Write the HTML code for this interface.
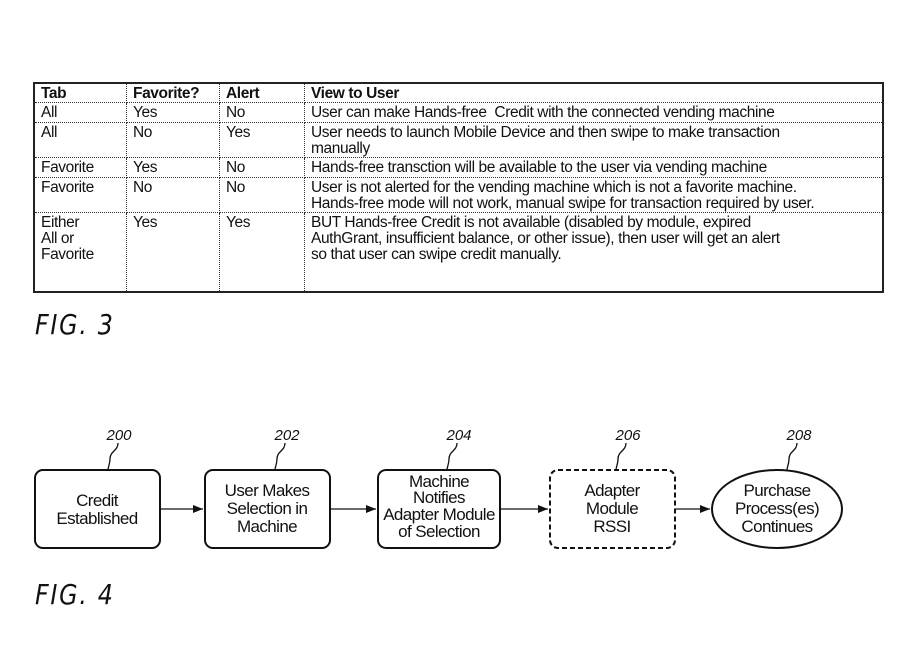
<!DOCTYPE html>
<html><head><meta charset="utf-8"><style>
body{margin:0;background:#fff;width:920px;height:647px;overflow:hidden;position:relative;font-family:"Liberation Sans",Arial,sans-serif;color:#111}
table{position:absolute;left:33px;top:82px;width:851px;border-collapse:collapse;font-size:15.5px;line-height:16px;table-layout:fixed}
td,th{border:1px dotted #333;padding:2px 6px 0 6px;vertical-align:top;text-align:left;letter-spacing:-0.4px;white-space:nowrap;overflow:hidden}
table{border:2px solid #222}
th{font-weight:bold;height:16px}
.fig{position:absolute;font-style:italic;font-size:28px;letter-spacing:2px;font-family:"DejaVu Sans","Liberation Sans",sans-serif;font-weight:300;transform:scaleX(0.85);transform-origin:left}
</style></head><body>
<table>
<tr><th style="width:79px">Tab</th><th style="width:80px">Favorite?</th><th style="width:72px">Alert</th><th>View to User</th></tr>
<tr style="height:20px"><td>All</td><td>Yes</td><td>No</td><td>User can make Hands-free&nbsp; Credit with the connected vending machine</td></tr>
<tr style="height:34px"><td>All</td><td>No</td><td>Yes</td><td>User needs to launch Mobile Device and then swipe to make transaction<br>manually</td></tr>
<tr style="height:20px"><td>Favorite</td><td>Yes</td><td>No</td><td>Hands-free transction will be available to the user via vending machine</td></tr>
<tr style="height:35px"><td>Favorite</td><td>No</td><td>No</td><td>User is not alerted for the vending machine which is not a favorite machine.<br>Hands-free mode will not work, manual swipe for transaction required by user.</td></tr>
<tr style="height:79px"><td>Either<br>All or<br>Favorite</td><td>Yes</td><td>Yes</td><td>BUT Hands-free Credit is not available (disabled by module, expired<br>AuthGrant, insufficient balance, or other issue), then user will get an alert<br>so that user can swipe credit manually.</td></tr>
</table>
<div class="fig" style="left:35px;top:308px">FIG. 3</div>
<div class="fig" style="left:35px;top:578px">FIG. 4</div>
<svg width="920" height="647" style="position:absolute;left:0;top:0" font-family="Liberation Sans, Arial, sans-serif">
<defs><marker id="a" markerWidth="10" markerHeight="8" refX="10" refY="4" orient="auto" markerUnits="userSpaceOnUse"><path d="M0,0 L10,4 L0,8z" fill="#111"/></marker></defs>
<g fill="none" stroke="#111" stroke-width="2">
<rect x="35" y="470" width="125" height="78" rx="8"/>
<rect x="205" y="470" width="125" height="78" rx="8"/>
<rect x="378" y="470" width="122" height="78" rx="8"/>
<rect x="550" y="470" width="125" height="78" rx="8" stroke-dasharray="5,3"/>
<ellipse cx="777" cy="509" rx="65" ry="39"/>
</g>
<g stroke="#111" stroke-width="1.3" fill="none">
<line x1="160" y1="509" x2="203" y2="509" marker-end="url(#a)"/>
<line x1="330" y1="509" x2="376" y2="509" marker-end="url(#a)"/>
<line x1="500" y1="509" x2="548" y2="509" marker-end="url(#a)"/>
<line x1="675" y1="509" x2="710" y2="509" marker-end="url(#a)"/>
<path d="M118,443 c0,8 -8,8 -8,16 c0,5 -2,8 -2,11"/>
<path d="M285,443 c0,8 -8,8 -8,16 c0,5 -2,8 -2,11"/>
<path d="M457,443 c0,8 -8,8 -8,16 c0,5 -2,8 -2,11"/>
<path d="M626,443 c0,8 -8,8 -8,16 c0,5 -2,8 -2,11"/>
<path d="M797,443 c0,8 -8,8 -8,16 c0,5 -2,8 -2,11"/>
</g>
<g font-style="italic" font-size="15" text-anchor="middle" fill="#111">
<text x="119" y="440">200</text><text x="287" y="440">202</text><text x="459" y="440">204</text><text x="628" y="440">206</text><text x="799" y="440">208</text>
</g>
<g font-size="17" letter-spacing="-0.6" text-anchor="middle" fill="#111">
<text x="97" y="506">Credit</text><text x="97" y="524">Established</text>
<text x="267" y="496">User Makes</text><text x="267" y="514">Selection in</text><text x="267" y="532">Machine</text>
<text x="439" y="487">Machine</text><text x="439" y="503">Notifies</text><text x="439" y="520">Adapter Module</text><text x="439" y="537">of Selection</text>
<text x="612" y="496">Adapter</text><text x="612" y="514">Module</text><text x="612" y="532">RSSI</text>
<text x="777" y="496">Purchase</text><text x="777" y="514">Process(es)</text><text x="777" y="532">Continues</text>
</g>
</svg>
</body></html>
